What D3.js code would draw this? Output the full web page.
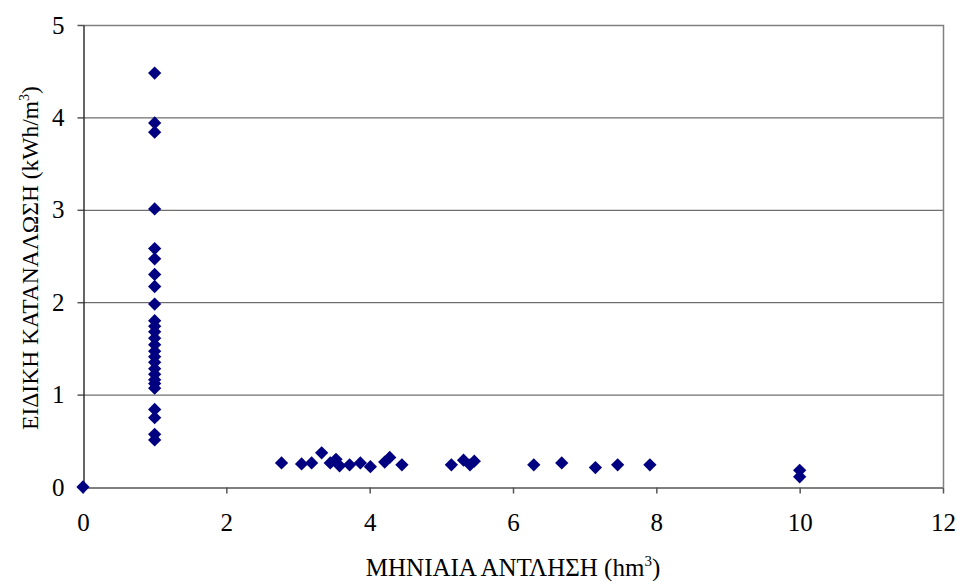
<!DOCTYPE html>
<html>
<head>
<meta charset="utf-8">
<script src="https://cdn.jsdelivr.net/npm/d3@7"></script>
<style>
  html, body { margin: 0; padding: 0; background: #fff; }
</style>
</head>
<body>
<svg id="chart" width="959" height="581"></svg>
<script>
// Data: monthly pumping (hm3) vs specific consumption (kWh/m3)
const pumping = [
  0,
  1, 1, 1, 1, 1, 1, 1, 1, 1, 1, 1, 1, 1, 1, 1, 1, 1, 1, 1, 1, 1, 1, 1, 1, 1, 1,
  2.77, 3.05, 3.19, 3.33, 3.45, 3.53, 3.58, 3.72, 3.87, 4.01, 4.21, 4.28, 4.45,
  5.14, 5.31, 5.40, 5.46, 6.29, 6.68, 7.15, 7.46, 7.91, 10, 10
];
const consumption = [
  0,
  4.48, 3.94, 3.84, 3.01, 2.58, 2.47, 2.30, 2.17, 1.98, 1.80, 1.74, 1.68, 1.61, 1.54,
  1.47, 1.41, 1.35, 1.28, 1.22, 1.16, 1.12, 1.07, 0.84, 0.75, 0.57, 0.51,
  0.26, 0.25, 0.26, 0.37, 0.26, 0.30, 0.23, 0.24, 0.26, 0.22, 0.27, 0.32, 0.24,
  0.24, 0.29, 0.24, 0.28, 0.24, 0.26, 0.21, 0.24, 0.24, 0.18, 0.11
];
const xTicks = [0, 2, 4, 6, 8, 10, 12];
const yTicks = [0, 1, 2, 3, 4, 5];
const xTitle = "ΜΗΝΙΑΙΑ ΑΝΤΛΗΣΗ (hm";
const yTitle = "ΕΙΔΙΚΗ ΚΑΤΑΝΑΛΩΣΗ (kWh/m";

const FONT = "'Liberation Serif', 'Times New Roman', Times, 'DejaVu Serif', serif";
const FS = 25;

const n = Math.min(pumping.length, consumption.length);
const points = d3.range(n).map(i => ({ x: pumping[i], y: consumption[i] }));

const svg = d3.select("#chart").style("font-family", FONT);
const m = { left: 83, right: 943, top: 25, bottom: 487 };

const x = d3.scaleLinear().domain([0, 12]).range([m.left, m.right]);
const y = d3.scaleLinear().domain([0, 5]).range([m.bottom, m.top]);

// gridlines
svg.append("g")
  .selectAll("line")
  .data(yTicks.filter(d => d > 0 && d < 5))
  .join("line")
  .attr("x1", m.left).attr("x2", m.right)
  .attr("y1", d => y(d) + 0.5).attr("y2", d => y(d) + 0.5)
  .attr("stroke", "#4a4a4a").attr("stroke-width", 1);

// plot border top/right
svg.append("path")
  .attr("d", `M${m.left},${m.top + 0.5}H${m.right + 0.5}V${m.bottom}`)
  .attr("fill", "none").attr("stroke", "#808080").attr("stroke-width", 1.5);

// axes
const fmt = d3.format("d");
const xAxis = d3.axisBottom(x).tickValues(xTicks).tickFormat(fmt).tickSize(6).tickSizeOuter(0).tickPadding(20);
const yAxis = d3.axisLeft(y).tickValues(yTicks).tickFormat(fmt).tickSize(6).tickSizeOuter(0).tickPadding(13);

const gx = svg.append("g").attr("transform", `translate(0,${m.bottom + 0.5})`).call(xAxis);
const gy = svg.append("g").attr("transform", `translate(${m.left + 0.5},0)`).call(yAxis);

[gx, gy].forEach(g => {
  g.attr("font-family", null).attr("font-size", null).style("font-family", FONT);
  g.select(".domain").attr("stroke", "#000").attr("stroke-width", 1.2);
  g.selectAll(".tick line").attr("stroke", "#555").attr("stroke-width", 1.5);
  g.selectAll(".tick text")
    .style("font-family", FONT)
    .attr("font-size", FS).attr("fill", "#000");
});

// markers (diamonds as rotated squares)
const sym = d3.symbol().type(d3.symbolSquare).size(88);
svg.append("g")
  .selectAll("path")
  .data(points)
  .join("path")
  .attr("d", sym)
  .attr("transform", d => `translate(${x(d.x)},${y(d.y)}) rotate(45)`)
  .attr("fill", "#000080");

// axis titles
const xt = svg.append("text")
  .style("font-family", FONT)
  .attr("x", 513).attr("y", 576)
  .attr("text-anchor", "middle")
  .attr("font-size", FS).attr("fill", "#000");
xt.append("tspan").text(xTitle);
xt.append("tspan").attr("font-size", 15).attr("dy", -10).text("3");
xt.append("tspan").attr("dy", 10).text(")");

const yt = svg.append("text")
  .style("font-family", FONT)
  .attr("transform", `translate(38,258) rotate(-90)`)
  .attr("text-anchor", "middle")
  .attr("font-size", 23.5).attr("fill", "#000");
yt.append("tspan").text(yTitle);
yt.append("tspan").attr("font-size", 14).attr("dy", -9).text("3");
yt.append("tspan").attr("dy", 9).text(")");
</script>
</body>
</html>
